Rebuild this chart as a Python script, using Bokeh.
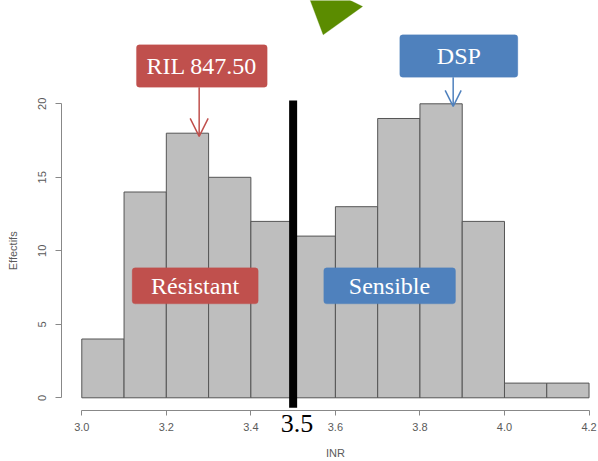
import math
from bokeh.plotting import figure
from bokeh.models import (Range1d, FixedTicker, Label, BoxAnnotation, Arrow,
                          OpenHead, PolyAnnotation, NumeralTickFormatter)
from bokeh.embed import file_html
from bokeh.resources import INLINE

# ---- data ----
bin_edges = [3.0, 3.1, 3.2, 3.3, 3.4, 3.5, 3.6, 3.7, 3.8, 3.9, 4.0, 4.1, 4.2]
counts = [4, 14, 18, 15, 12, 11, 13, 19, 20, 12, 1, 1]
x_ticks = [3.0, 3.2, 3.4, 3.6, 3.8, 4.0, 4.2]
y_ticks = [0, 5, 10, 15, 20]
threshold = 3.5
x_label = "INR"
y_label = "Effectifs"

RED = "#C0504D"
BLUE = "#4F81BD"
SERIF = "Liberation Serif"
SANS = "Liberation Sans"

p = figure(width=598, height=461, title=None,
           x_range=Range1d(2.8077, 4.2224), y_range=Range1d(-4.333, 27.027),
           output_backend="svg", toolbar_location=None,
           min_border=0, min_border_left=0, min_border_right=0,
           min_border_top=0, min_border_bottom=0)
p.outline_line_color = None
p.xgrid.visible = False
p.ygrid.visible = False
p.background_fill_color = "white"
p.border_fill_color = "white"

# histogram bars
p.quad(left=bin_edges[:-1], right=bin_edges[1:], bottom=0, top=counts,
       fill_color="#BEBEBE", line_color="#555555", line_width=1)

# axes in R style (detached, bounded)
for ax in (p.xaxis[0], p.yaxis[0]):
    ax.minor_tick_line_color = None
    ax.major_tick_in = 0
    ax.axis_line_color = "#888888"
    ax.major_tick_line_color = "#888888"
    ax.major_label_text_font = SANS
    ax.major_label_text_font_size = "11px"
    ax.major_label_text_color = "#5A5A5A"

p.xaxis.fixed_location = -0.864
p.xaxis.bounds = (x_ticks[0], x_ticks[-1])
p.xaxis.ticker = FixedTicker(ticks=x_ticks)
p.xaxis.formatter = NumeralTickFormatter(format="0.0")
p.xaxis.major_tick_out = 5
p.xaxis.major_label_standoff = 7

p.yaxis.fixed_location = 2.952
p.yaxis.bounds = (y_ticks[0], y_ticks[-1])
p.yaxis.ticker = FixedTicker(ticks=y_ticks)
p.yaxis.major_tick_out = 6
p.yaxis.major_label_standoff = 9
p.yaxis.major_label_orientation = "vertical"

# axis titles
p.add_layout(Label(x=3.6, y=-3.74, text=x_label, text_font=SANS,
                   text_font_size="11px", text_color="#5A5A5A",
                   text_align="center", text_baseline="middle"))
p.add_layout(Label(x=2.838, y=10, text=y_label, text_font=SANS,
                   text_font_size="11px", text_color="#5A5A5A",
                   angle=math.pi / 2, text_align="center", text_baseline="middle"))

# threshold line
p.segment(x0=[threshold], y0=[-0.68], x1=[threshold], y1=[20.22],
          line_color="black", line_width=8)
p.add_layout(Label(x=3.509, y=-1.75, text="3.5", text_font=SERIF,
                   text_font_size="26px", text_color="black",
                   text_align="center", text_baseline="middle"))

# callout boxes
def callout(l, r, b, t, color, text, cx, cy):
    p.add_layout(BoxAnnotation(left=l, right=r, bottom=b, top=t,
                               fill_color=color, fill_alpha=1.0,
                               line_color=color, border_radius=3))
    p.add_layout(Label(x=cx, y=cy, text=text, text_font=SERIF,
                       text_font_size="24px", text_color="white",
                       text_align="center", text_baseline="middle"))

callout(3.1293, 3.4386, 21.13, 24.01, RED, "RIL 847.50", 3.284, 22.57)
callout(3.7523, 4.0315, 21.81, 24.69, BLUE, "DSP", 3.892, 23.25)
callout(3.1192, 3.4173, 6.39, 8.84, RED, "Résistant", 3.268, 7.615)
callout(3.5725, 3.8841, 6.39, 8.84, BLUE, "Sensible", 3.728, 7.615)

# arrows
p.add_layout(Arrow(end=OpenHead(size=18, line_color=RED, line_width=1.5),
                   x_start=3.2777, y_start=21.13, x_end=3.2777, y_end=17.78,
                   line_color=RED, line_width=1.5))
p.add_layout(Arrow(end=OpenHead(size=16, line_color=BLUE, line_width=1.5),
                   x_start=3.8786, y_start=21.81, x_end=3.8786, y_end=19.82,
                   line_color=BLUE, line_width=1.5))

# green triangle at top
p.add_layout(PolyAnnotation(xs=[3.5383, 3.6233, 3.6643, 3.5711],
                            ys=[27.2, 27.2, 26.62, 24.69],
                            fill_color="#5B8C00", fill_alpha=1.0,
                            line_color="#5B8C00"))

open("out.html", "w").write(file_html(p, INLINE))
